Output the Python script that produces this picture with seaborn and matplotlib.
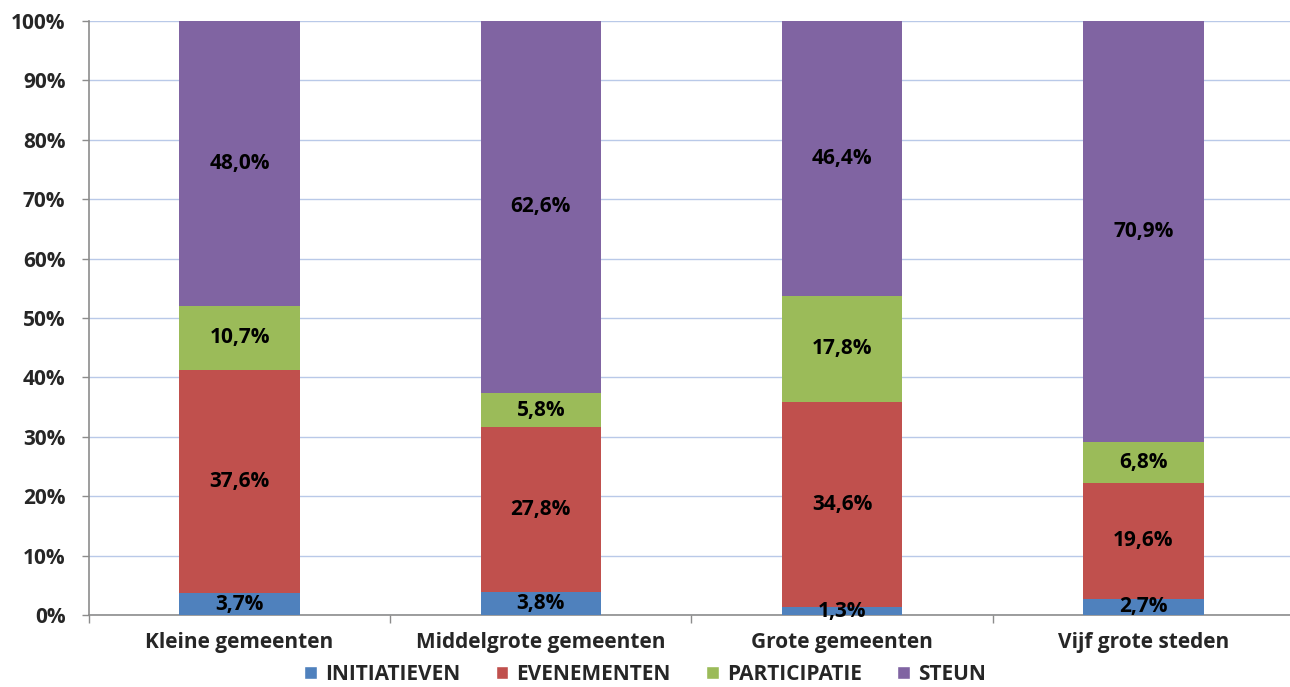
import pandas as pd
import numpy as np
import matplotlib
matplotlib.use('Agg')
import matplotlib.pyplot as plt
import seaborn as sns
from matplotlib.patches import Patch

# data
categories = ['Kleine gemeenten', 'Middelgrote gemeenten', 'Grote gemeenten', 'Vijf grote steden']
series = ['INITIATIEVEN', 'EVENEMENTEN', 'PARTICIPATIE', 'STEUN']
initiatieven = [3.7, 3.8, 1.3, 2.7]
evenementen = [37.6, 27.8, 34.6, 19.6]
participatie = [10.7, 5.8, 17.8, 6.8]
steun = [48.0, 62.6, 46.4, 70.9]
colors = ['#4F81BD', '#C0504D', '#9BBB59', '#8064A2']

sns.set_theme(style='white')
plt.rcParams['font.family'] = ['Open Sans', 'DejaVu Sans']
plt.rcParams['font.weight'] = 'bold'

df = pd.DataFrame({'cat': categories, 'INITIATIEVEN': initiatieven, 'EVENEMENTEN': evenementen,
                   'PARTICIPATIE': participatie, 'STEUN': steun})
cum = df[series].cumsum(axis=1)

fig = plt.figure(figsize=(12.9, 6.87), dpi=100)
ax = fig.add_axes([0.069, 0.1048, 0.934, 0.8646])

# stacked: draw from top layer down
for s, c in zip(series[::-1], colors[::-1]):
    sns.barplot(x='cat', y=cum[s], data=df, color=c, width=0.4, ax=ax,
                saturation=1, linewidth=0, zorder=3)

# value labels
for i in range(len(categories)):
    bottom = 0
    for s in series:
        v = df.loc[i, s]
        ax.text(i, bottom + v / 2, f'{v:.1f}%'.replace('.', ','), ha='center', va='center',
                fontsize=15, fontweight='bold', color='black', zorder=5)
        bottom += v

ax.set_ylim(0, 100)
ax.set_xlim(-0.5, 3.5)
ax.set_yticks(np.arange(0, 101, 10))
ax.set_yticklabels([f'{t}%' for t in range(0, 101, 10)], fontsize=15, fontweight='bold')
ax.set_xticks(range(4))
ax.set_xticklabels(categories, fontsize=15, fontweight='bold')
ax.set_xticks([-0.5, 0.5, 1.5, 2.5, 3.5], minor=True)
ax.tick_params(axis='x', which='major', length=0, pad=12)
ax.tick_params(axis='x', which='minor', length=6, color='#8c8c8c', width=1, direction='out', bottom=True)
ax.tick_params(axis='y', length=5, color='#8c8c8c', width=1, direction='out', left=True, pad=12)
ax.set_xlabel('')
ax.set_ylabel('')
ax.yaxis.grid(True, color='#B9C9E8', linewidth=1, zorder=0)
ax.set_axisbelow(True)
for sp in ['top', 'right']:
    ax.spines[sp].set_visible(False)
for sp in ['left', 'bottom']:
    ax.spines[sp].set_color('#8c8c8c')
    ax.spines[sp].set_linewidth(1.2)

handles = [Patch(facecolor=c, label=s) for s, c in zip(series, colors)]
fig.legend(handles=handles, loc='center', bbox_to_anchor=(0.5, 0.018), ncol=4, frameon=False,
           prop={'weight': 'bold', 'size': 15}, handlelength=0.6, handleheight=0.6,
           handletextpad=0.4, columnspacing=1.7, borderpad=0)

fig.savefig('out.png', dpi=100)
